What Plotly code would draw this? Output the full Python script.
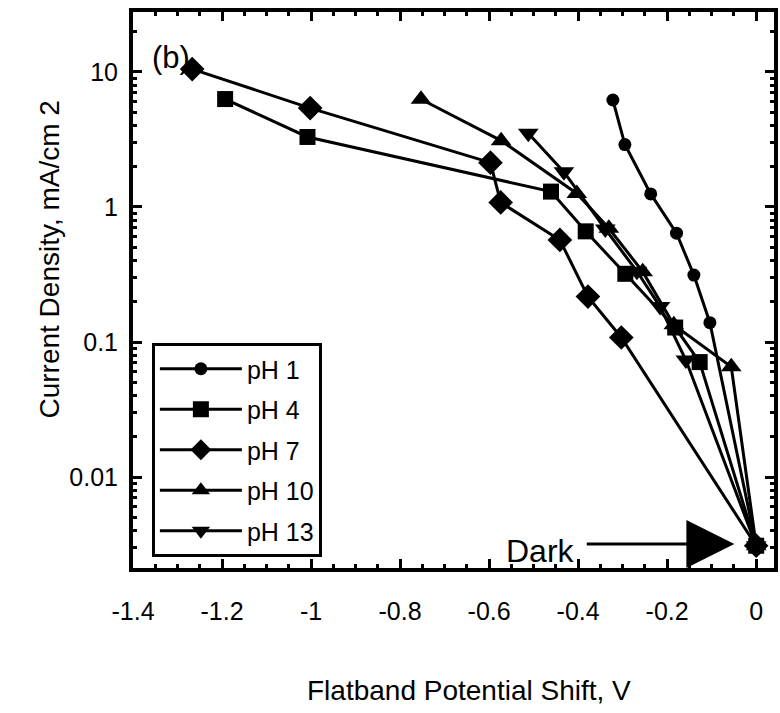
import plotly.graph_objects as go
import math

# ---- data (x: flatband potential shift, V ; y: current density, mA/cm^2) ----
dark_x = 0.0
dark_y = 0.0031

ph1_x = [-0.322, -0.295, -0.237, -0.179, -0.140, -0.104]
ph1_y = [6.2, 2.9, 1.25, 0.64, 0.313, 0.139]

ph4_x = [-1.193, -1.008, -0.461, -0.383, -0.294, -0.182, -0.127]
ph4_y = [6.3, 3.3, 1.3, 0.66, 0.32, 0.128, 0.071]

ph7_x = [-1.267, -1.002, -0.597, -0.574, -0.441, -0.378, -0.303]
ph7_y = [10.5, 5.4, 2.13, 1.08, 0.57, 0.217, 0.108]

ph10_x = [-0.753, -0.573, -0.403, -0.331, -0.255, -0.185, -0.056]
ph10_y = [6.28, 3.10, 1.26, 0.695, 0.332, 0.134, 0.0656]

ph13_x = [-0.512, -0.432, -0.339, -0.268, -0.216, -0.158]
ph13_y = [3.52, 1.82, 0.687, 0.334, 0.183, 0.0736]

series_names = ["pH 1", "pH 4", "pH 7", "pH 10", "pH 13"]
series_x = [ph1_x, ph4_x, ph7_x, ph10_x, ph13_x]
series_y = [ph1_y, ph4_y, ph7_y, ph10_y, ph13_y]
symbols = ["circle", "square", "diamond", "triangle-up", "triangle-down"]
sizes = [13, 16, 19, 18, 18]

x_ticks = [-1.4, -1.2, -1.0, -0.8, -0.6, -0.4, -0.2, 0.0]
x_ticktext = ["-1.4", "-1.2", "-1", "-0.8", "-0.6", "-0.4", "-0.2", "0"]
y_ticks = [0.01, 0.1, 1, 10]
y_ticktext = ["0.01", "0.1", "1", "10"]

FONT = "Liberation Sans, Arial, sans-serif"

fig = go.Figure()
for i, name in enumerate(series_names):
    fig.add_trace(go.Scatter(
        x=series_x[i] + [dark_x],
        y=series_y[i] + [dark_y],
        mode="lines+markers",
        name=name,
        legendgroup=name,
        line=dict(color="black", width=3),
        marker=dict(symbol=symbols[i], size=sizes[i], color="black"),
    ))

axis_common = dict(
    showline=True, linecolor="black", linewidth=4, mirror="allticks",
    ticks="inside", ticklen=9, tickwidth=3, tickcolor="black",
    showgrid=False, zeroline=False,
    tickfont=dict(family=FONT, size=25, color="black"),
)

fig.update_xaxes(
    range=[-1.4, 0.04],
    tickmode="array", tickvals=x_ticks, ticktext=x_ticktext,
    minor=dict(dtick=0.05, ticks="inside", ticklen=4, tickwidth=3, tickcolor="black", showgrid=False),
    ticklabelstandoff=18,
    **axis_common,
)
fig.update_yaxes(
    type="log",
    range=[math.log10(0.00212), math.log10(27.8)],
    tickmode="array", tickvals=y_ticks, ticktext=y_ticktext,
    minor=dict(dtick="D1", ticks="inside", ticklen=4, tickwidth=3, tickcolor="black", showgrid=False),
    ticklabelstandoff=6,
    **axis_common,
)

PW = 645.0   # plot width in px
PH = 556.0   # plot height in px

def px_x(p):
    return (p - 133) / PW

def px_y(p):
    return (568 - p) / PH

# arrow for "Dark"
arrow_y = math.log10(0.00319)
fig.add_annotation(
    x=-0.049, y=arrow_y, xref="x", yref="y",
    ax=-0.384, ay=arrow_y, axref="x", ayref="y",
    text="", showarrow=True, arrowhead=2, arrowsize=3.2, arrowwidth=3, arrowcolor="black",
)
fig.add_annotation(
    x=-0.4845, y=math.log10(0.00285), xref="x", yref="y",
    text="Dark", showarrow=False,
    font=dict(family=FONT, size=32, color="black"),
)
fig.add_annotation(
    x=px_x(150), y=px_y(57), xref="paper", yref="paper", text="(b)", showarrow=False,
    xanchor="left", yanchor="middle",
    font=dict(family=FONT, size=31, color="black"),
)
fig.add_annotation(
    text="Flatband Potential Shift, V", xref="paper", yref="paper",
    x=px_x(471), y=px_y(690), showarrow=False, xanchor="center", yanchor="middle",
    font=dict(family=FONT, size=28, color="black"),
)
fig.add_annotation(
    text="Current Density, mA/cm 2", xref="paper", yref="paper",
    x=px_x(48), y=px_y(260), textangle=-90, showarrow=False,
    xanchor="center", yanchor="middle",
    font=dict(family=FONT, size=28, color="black"),
)

fig.update_layout(
    width=780, height=713, autosize=False,
    margin=dict(l=133, r=2, t=12, b=145),
    paper_bgcolor="white", plot_bgcolor="white",
    font=dict(family=FONT, color="black"),
    showlegend=True,
    legend=dict(
        x=px_x(152), y=px_y(343), xanchor="left", yanchor="top",
        bgcolor="white", bordercolor="black", borderwidth=3,
        font=dict(family=FONT, size=25, color="black"),
        tracegroupgap=5, itemwidth=82,
    ),
)

fig.write_html("out.html")
